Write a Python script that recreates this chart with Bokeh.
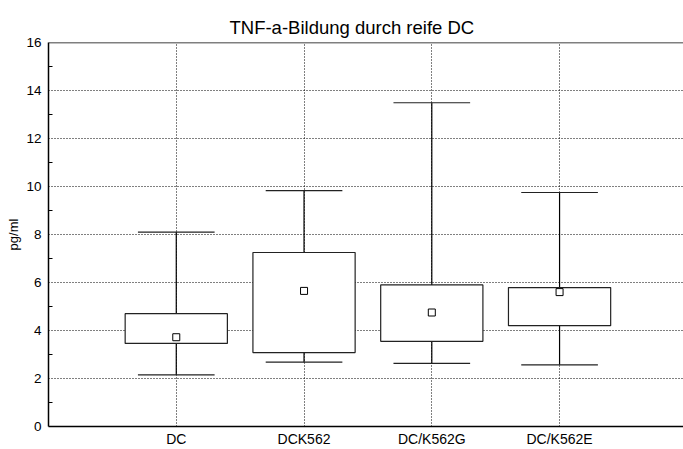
from bokeh.plotting import figure
from bokeh.models import Range1d, FixedTicker, Span, ColumnDataSource, Title
from bokeh.embed import file_html
from bokeh.resources import INLINE

categories = ["DC", "DCK562", "DC/K562G", "DC/K562E"]
mean_vals = [3.72, 5.65, 4.75, 5.60]
box_low = [3.46, 3.08, 3.55, 4.20]
box_high = [4.70, 7.25, 5.90, 5.79]
whisk_low = [2.15, 2.68, 2.63, 2.57]
whisk_high = [8.10, 9.83, 13.49, 9.75]
y_ticks = [0, 2, 4, 6, 8, 10, 12, 14, 16]

xs = [i + 1 for i in range(len(categories))]
cap_half = 0.3
src = ColumnDataSource(dict(x=xs, x0=[x - cap_half for x in xs], x1=[x + cap_half for x in xs],
                            mean=mean_vals, lo=box_low, hi=box_high,
                            wl=whisk_low, wh=whisk_high))

FONT = "Liberation Sans"
p = figure(width=683, height=449, output_backend="svg", toolbar_location=None,
           x_range=Range1d(0, 4.97), y_range=Range1d(0, 16),
           min_border_left=48, min_border_right=0, min_border_top=42, min_border_bottom=23,
           background_fill_color="white", border_fill_color="white")
p.outline_line_color = "red"
p.outline_line_alpha = 0
p.outline_line_width = 0
p.title.text = ""
t = Title(text="TNF-a-Bildung durch reife DC", align="left", offset=181,
          text_font=FONT, text_font_size="18.5px", text_font_style="normal",
          text_color="#000000")
p.add_layout(t, "above")

# grid
p.xgrid.ticker = FixedTicker(ticks=xs)
p.ygrid.ticker = FixedTicker(ticks=y_ticks)
for g in (p.xgrid, p.ygrid):
    g.grid_line_color = "#000000"
    g.grid_line_dash = "1 2"
    g.grid_line_width = 1

# axes
p.xaxis.ticker = FixedTicker(ticks=xs)
p.xaxis.major_label_overrides = {x: c for x, c in zip(xs, categories)}
p.yaxis.ticker = FixedTicker(ticks=y_ticks, minor_ticks=[1, 3, 5, 7, 9, 11, 13, 15])
p.yaxis.axis_label = "pg/ml"
for ax in (p.xaxis, p.yaxis):
    ax.axis_line_color = "black"
    ax.axis_line_width = 1.5
    ax.major_tick_in = 0
    ax.major_tick_out = 0
    ax.minor_tick_out = 0
    ax.major_label_text_font = FONT
    ax.major_label_text_color = "#000000"
    ax.axis_label_text_font = FONT
    ax.axis_label_text_font_size = "13px"
    ax.axis_label_text_font_style = "normal"
    ax.axis_label_text_color = "#000000"
p.xaxis.major_label_text_font_size = "14px"
p.yaxis.major_label_text_font_size = "13.5px"
p.xaxis.minor_tick_line_color = None
p.yaxis.minor_tick_in = 4
p.yaxis.minor_tick_line_color = "black"
p.xaxis.major_label_standoff = 4
p.yaxis.major_label_standoff = 7
p.yaxis.axis_label_standoff = 2

p.add_layout(Span(location=16, dimension="width", line_color="black", line_width=1.5))

# whiskers
p.segment(x0="x", y0="hi", x1="x", y1="wh", source=src, line_color="black", line_width=1.2)
p.segment(x0="x", y0="lo", x1="x", y1="wl", source=src, line_color="black", line_width=1.2)
p.segment(x0="x0", y0="wh", x1="x1", y1="wh", source=src, line_color="#222222", line_width=1.2)
p.segment(x0="x0", y0="wl", x1="x1", y1="wl", source=src, line_color="#222222", line_width=1.2)
# boxes
p.vbar(x="x", bottom="lo", top="hi", width=0.8, source=src, fill_color="white",
       line_color="#222222", line_width=1.2)
# mean markers
p.scatter(x="x", y="mean", source=src, marker="square", size=7, fill_color="white",
          line_color="black", line_width=1)

open("out.html", "w").write(file_html(p, INLINE))
